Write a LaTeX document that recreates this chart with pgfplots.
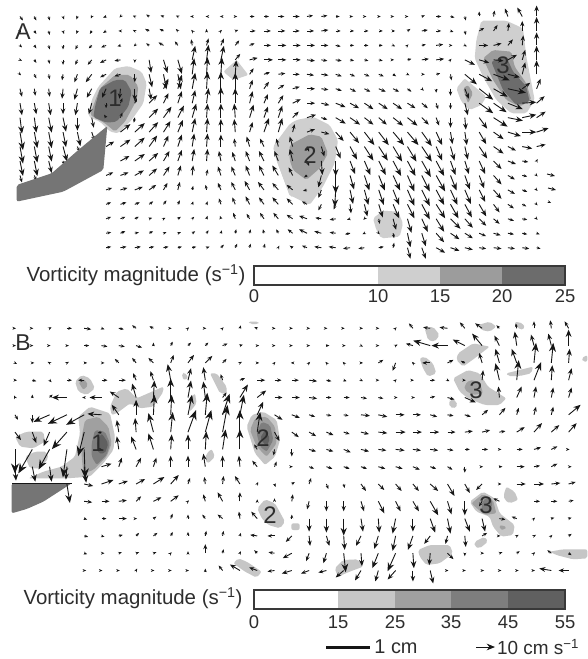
\documentclass[border=0pt]{standalone}
\usepackage{fontspec}
\setmainfont{Liberation Sans}
\usepackage{pgfplots}
\pgfplotsset{compat=1.18}
\usetikzlibrary{arrows.meta}
\definecolor{ink}{HTML}{161616}
\definecolor{AA}{HTML}{CFCFCF}\definecolor{AB}{HTML}{9C9C9C}\definecolor{AC}{HTML}{6C6C6C}
\definecolor{BA}{HTML}{C6C6C6}\definecolor{BB}{HTML}{A0A0A0}\definecolor{BC}{HTML}{7E7E7E}\definecolor{BD}{HTML}{606060}
\definecolor{foil}{HTML}{757575}
\pgfplotsset{
 qv/.style={color=ink,line width=0.9pt,forget plot,
  point meta={sqrt((\thisrow{u})^2+(\thisrow{v})^2)},
  quiver={u=\thisrow{u},v=\thisrow{v},every arrow/.append style={-{Stealth[length=10pt,width=8pt,scale={max(0.36,min(1,0.2+\pgfplotspointmetatransformed/1000))}]}}}},
 zA1/.style={x filter/.expression={x/3},y filter/.expression={y/3}},
 zA2/.style={x filter/.expression={x/3+293},y filter/.expression={y/3}},
 zB1/.style={x filter/.expression={x/3},y filter/.expression={y/3+310}},
 zB2/.style={x filter/.expression={x/3+293},y filter/.expression={y/3+310}},
}
\newcommand\pat[3]{\addplot[fill=#2,draw=none,forget plot,rounded corners=2pt,#1] coordinates {#3} --cycle;}
% row j, first column, then u v (px, v downward) from the tail of each arrow
\newcommand\Ar[3]{\addplot[qv] table[row sep=crcr,x expr={20+14.35*(\coordindex+#2)},y expr={16.5+14.45*#1}]{u v\\#3};}
\newcommand\Br[3]{\addplot[qv] table[row sep=crcr,x expr={15+17.3*(\coordindex+#2)},y expr={328.3+17.3*#1}]{u v\\#3};}
\newcommand\lab[3]{\node[text=ink!90,inner sep=0pt,font=\fontsize{#3}{#3}\selectfont] at (axis cs:#1) {#2};}
\begin{document}
\begin{tikzpicture}
\begin{axis}[width=587bp,height=659bp,scale only axis,xmin=0,xmax=587,ymin=0,ymax=659,y dir=reverse,hide axis,point meta min=0,point meta max=30,clip=false]
\addplot[fill=white,draw=none,forget plot] coordinates {(0,0)(587,0)(587,659)(0,659)} --cycle;
% ---------- Panel A patches
\pat{zA1}{AA}{(295,260)(345,205)(385,198)(425,215)(440,250)(430,310)(395,360)(355,400)(330,395)(300,365)(265,350)(275,300)}
\pat{zA1}{AB}{(300,265)(345,225)(390,225)(415,260)(410,300)(375,365)(345,395)(315,370)(270,345)(290,290)}
\pat{zA1}{AC}{(285,320)(300,265)(345,240)(375,240)(395,275)(385,320)(350,365)(320,368)(280,352)}
\pat{zA1}{AA}{(670,215)(710,180)(745,225)(700,240)}
\pat{zA1}{AA}{(820,440)(880,375)(880,590)(870,590)(830,480)}
\pat{zA2}{AA}{(-10,372)(10,360)(60,350)(110,375)(135,420)(125,490)(90,560)(50,615)(0,590)(-10,585)(-50,480)(-60,440)}
\pat{zA2}{AB}{(-10,435)(50,403)(85,410)(105,460)(80,505)(40,540)(0,510)(-10,480)}
\pat{zA2}{AA}{(240,655)(270,632)(315,635)(330,670)(320,710)(265,715)(250,690)}
\pat{zA2}{AA}{(565,62)(640,62)(690,85)(700,170)(725,300)(700,340)(655,340)(610,300)(570,230)(545,175)(550,120)}
\pat{zA2}{AB}{(570,175)(600,150)(655,155)(665,200)(700,250)(715,300)(680,320)(640,300)(600,240)}
\pat{zA2}{AC}{(595,185)(640,170)(660,215)(700,260)(710,305)(670,315)(630,270)}
\pat{zA2}{AA}{(490,265)(515,235)(580,290)(565,315)(530,330)(505,305)}
\pat{zA2}{AB}{(510,265)(525,255)(540,280)(525,310)}
% ---------- Panel A arrows
\Ar{0}{0}{3 4\\2 4\\1 4\\1 3\\-1 3\\-1 2\\-3 1\\-1 1\\-2 -1\\-3 -2\\-3 -1\\-2 -1\\-2 0\\-1 0\\-1 0\\2 0\\5 0\\5 0\\6 0\\7 0\\6 -1\\6 -1\\4 0\\3 0\\2 0\\2 0\\1 0\\1 0\\3 -1\\5 0\\4 1\\1 4\\0 -5\\1 -6\\-3 -8\\-5 -9\\0 -11\\}
\Ar{1}{0}{1 2\\2 3\\1 4\\1 3\\-1 3\\-2 3\\-3 2\\-2 0\\-2 -1\\-4 -2\\-4 -2\\-2 -2\\-1 -1\\0 -2\\1 -1\\3 -1\\6 0\\7 0\\7 0\\7 0\\7 0\\7 -1\\5 0\\4 0\\4 0\\4 0\\2 0\\3 -2\\6 -1\\5 0\\3 1\\1 4\\5 -3\\4 -6\\1 -8\\0 -10\\0 -14\\}
\Ar{2}{0}{2 2\\2 3\\1 4\\0 4\\-2 4\\-3 3\\-5 2\\-3 1\\-1 1\\-3 -2\\-5 -3\\-3 -4\\-1 -6\\2 -7\\3 -7\\4 -5\\5 -2\\7 0\\8 0\\8 0\\8 0\\7 0\\5 1\\4 0\\4 0\\4 0\\2 1\\1 -1\\4 -1\\7 -1\\2 0\\2 1\\9 0\\8 -2\\5 -6\\1 -10\\0 -13\\}
\Ar{3}{0}{2 1\\2 3\\1 4\\0 5\\-2 5\\-4 5\\-6 3\\-6 1\\0 3\\2 13\\4 13\\4 14\\3 -14\\2 -15\\3 -14\\5 -6\\8 -2\\9 0\\8 0\\8 0\\8 1\\6 1\\6 1\\4 1\\4 1\\4 1\\1 0\\4 -1\\7 -1\\8 -1\\1 -1\\10 5\\10 3\\10 1\\9 -5\\3 -10\\0 -14\\}
\Ar{4}{0}{1 1\\2 4\\1 5\\-1 6\\-3 8\\-6 8\\-6 3\\-6 2\\0 8\\3 13\\3 15\\3 15\\2 -16\\1 -17\\1 -17\\1 -14\\4 -6\\6 -2\\7 -1\\7 0\\7 1\\7 1\\6 2\\5 2\\5 2\\5 2\\3 2\\2 1\\3 0\\4 -1\\1 6\\12 10\\13 7\\16 6\\12 3\\3 -12\\0 -14\\}
\Ar{5}{0}{2 8\\1 7\\1 8\\-1 10\\-3 11\\-5 9\\-4 9\\-1 10\\0 12\\2 11\\5 -10\\4 -14\\3 -16\\1 -17\\0 -17\\0 -16\\3 -9\\5 -7\\6 -4\\7 -2\\8 0\\7 1\\6 2\\6 3\\6 3\\7 3\\6 3\\4 3\\2 2\\0 4\\0 7\\4 10\\14 11\\14 8\\18 4\\8 -6\\4 -10\\}
\Ar{6}{0}{2 12\\2 11\\2 12\\0 11\\-2 12\\-3 11\\0 5\\2 -5\\2 -5\\8 -8\\5 -10\\4 -12\\3 -13\\2 -15\\0 -16\\0 -15\\3 -12\\4 -9\\5 -8\\8 -4\\8 0\\8 2\\10 4\\9 5\\9 6\\9 6\\9 6\\8 5\\6 5\\2 6\\0 6\\3 12\\14 10\\13 9\\15 6\\14 -1\\8 -7\\}
\Ar{7}{0}{2 16\\2 15\\3 15\\3 14\\0 13\\2 10\\-2 -3\\2 -5\\-1 5\\9 -9\\8 -11\\6 -12\\4 -14\\1 -14\\0 -14\\-1 -14\\4 -13\\4 -11\\4 -12\\6 -6\\9 -3\\6 2\\10 6\\10 7\\9 7\\8 7\\10 8\\10 8\\7 7\\3 8\\0 10\\1 12\\8 11\\14 9\\15 3\\14 -3\\9 -6\\}
\Ar{8}{0}{3 18\\3 16\\3 16\\3 15\\3 14\\3 9\\}
\Ar{8}{7}{10 -8\\10 -9\\9 -10\\7 -11\\5 -12\\3 -14\\1 -14\\0 -13\\-1 -13\\3 -10\\5 -14\\4 -14\\2 -8\\8 -3\\8 2\\8 9\\9 11\\10 13\\10 13\\11 13\\11 13\\10 14\\6 13\\2 12\\2 13\\7 12\\10 7\\13 4\\14 0\\12 -4\\}
\Ar{9}{0}{3 17\\3 16\\3 15\\4 15\\2 5\\}
\Ar{9}{6}{8 -5\\10 -7\\10 -9\\8 -11\\5 -11\\4 -12\\2 -13\\1 -13\\0 -12\\-1 -8\\-3 -10\\-4 -8\\-2 -8\\-3 -10\\2 5\\3 10\\5 12\\7 13\\9 14\\9 14\\9 15\\9 15\\10 15\\6 14\\4 14\\3 13\\8 12\\10 7\\8 4\\10 2\\9 -2\\}
\Ar{10}{0}{3 15\\3 15\\3 12\\1 4\\}
\Ar{10}{7}{9 -5\\10 -7\\9 -8\\6 -10\\4 -11\\2 -12\\1 -12\\-2 -10\\-3 -9\\-4 -10\\-5 -10\\-4 -10\\-3 -12\\2 5\\1 14\\0 15\\5 13\\6 14\\7 14\\8 15\\8 15\\9 16\\8 15\\5 14\\4 13\\6 13\\8 8\\8 3\\6 1\\1 -2\\}
\Ar{11}{0}{2 7\\2 5\\}
\Ar{11}{6}{7 -3\\8 -3\\9 -5\\8 -7\\6 -9\\3 -10\\1 -10\\1 -6\\-3 -9\\-4 -9\\-4 -10\\-5 -10\\-6 -10\\-4 -8\\-3 2\\-3 12\\0 18\\4 14\\5 15\\6 15\\7 15\\7 16\\8 16\\9 16\\6 15\\5 14\\5 13\\8 9\\7 4\\5 1\\1 1\\}
\Ar{12}{6}{6 -2\\7 -2\\8 -3\\7 -5\\4 -7\\2 -8\\1 -4\\-1 -5\\-3 -7\\-4 -8\\-5 -9\\-6 -8\\-6 -7\\-6 -5\\-4 1\\-3 8\\-1 17\\3 14\\4 15\\5 15\\6 15\\7 16\\8 16\\8 15\\7 15\\6 14\\6 12\\8 9\\7 4\\5 2\\1 1\\}
\Ar{13}{6}{5 -2\\6 -2\\5 -2\\4 -3\\3 -4\\2 -4\\1 -3\\1 -3\\-2 -6\\-3 -7\\-4 -8\\-5 -7\\-6 -7\\-6 -6\\-5 -3\\-3 6\\-2 5\\1 9\\3 12\\4 13\\6 14\\7 14\\8 15\\9 14\\8 14\\7 13\\7 12\\6 8\\6 4\\4 2\\1 1\\}
\Ar{14}{6}{5 -2\\5 -2\\4 -2\\3 -1\\2 -1\\3 -2\\2 -2\\1 -3\\-1 -3\\-2 -6\\-3 -5\\-4 -6\\-5 -6\\-6 -4\\-8 -3\\-6 -1\\-6 1\\-3 1\\-1 1\\1 5\\3 11\\4 14\\6 13\\8 13\\10 10\\8 9\\7 7\\6 5\\6 2\\5 1\\1 1\\}
\Ar{15}{6}{5 -1\\5 -2\\4 -1\\4 -2\\3 -1\\3 -1\\3 -2\\2 -3\\1 -3\\1 -4\\1 -4\\-1 -4\\-2 -4\\-5 -4\\-8 -4\\-7 -2\\-6 -1\\-5 1\\-2 1\\1 1\\1 5\\3 14\\4 13\\8 9\\9 6\\8 5\\7 3\\7 2\\6 1\\5 1\\3 1\\}
\Ar{16}{6}{5 -1\\6 -1\\6 -1\\5 -1\\5 -1\\4 -1\\4 -1\\3 -1\\3 -3\\2 -4\\1 -4\\1 -4\\1 -2\\-3 -2\\-5 -2\\-7 -1\\-7 -1\\-7 1\\-6 1\\5 -1\\1 -5\\3 11\\4 11\\9 5\\9 3\\8 2\\7 1\\8 1\\7 1\\7 1\\4 1\\}
\addplot[qv] table[x=x,y=y] {u v x y
8 2 547 174
8 2 548 188
2 1 549 202
};
\pat{zA1}{foil,draw=black,line width=0.5pt,rounded corners=0pt}{(50,555)(155,520)(235,450)(322,378)(310,510)(190,575)(50,605)}
% ---------- Panel B patches
\pat{zB1}{BA}{(85,505)(130,485)(185,470)(225,440)(240,370)(235,320)(270,290)(330,310)(345,380)(340,420)(310,460)(270,500)(200,505)}
\pat{zB1}{BA}{(330,290)(350,245)(380,235)(410,265)(490,230)(490,245)(460,290)(420,295)(390,280)(350,310)(335,315)}
\pat{zB1}{BB}{(245,380)(255,330)(295,320)(325,350)(335,400)(320,440)(280,480)(250,490)(245,440)}
\pat{zB1}{BC}{(275,400)(285,360)(315,365)(330,400)(320,435)(290,465)(275,440)}
\pat{zB1}{BD}{(290,395)(305,370)(325,400)(315,430)(295,430)}
\pat{zB1}{BA}{(225,215)(245,195)(270,205)(285,235)(260,255)(235,245)}
\pat{zB1}{BB}{(235,215)(250,205)(265,225)(250,240)}
\pat{zB1}{BA}{(45,380)(80,365)(130,365)(135,395)(100,415)(60,410)}
\pat{zB1}{BA}{(75,440)(105,425)(140,425)(145,445)(120,475)(90,475)}
\pat{zB1}{BA}{(545,190)(555,187)(565,205)(550,210)}
\pat{zB1}{BA}{(630,190)(650,190)(680,230)(680,250)(660,250)}
\pat{zB1}{BA}{(565,270)(585,250)(590,280)(570,305)}
\pat{zB1}{BA}{(620,430)(635,417)(645,440)(625,460)(615,450)}
\pat{zB1}{BA}{(700,760)(715,745)(740,755)(785,785)(770,803)(735,785)}
\pat{zB1}{BA}{(740,350)(755,315)(790,305)(830,330)(840,390)(825,440)(795,465)(765,430)}
\pat{zB1}{BB}{(750,360)(765,325)(800,320)(825,350)(830,400)(800,440)(770,410)}
\pat{zB1}{BC}{(770,370)(785,335)(810,345)(820,390)(800,425)(780,410)}
\pat{zB1}{BD}{(780,385)(795,360)(810,385)(800,410)}
\pat{zB1}{BA}{(772,595)(795,568)(825,580)(855,635)(840,655)(805,645)(785,625)}
\pat{zB1}{BA}{(745,35)(775,35)(775,42)(750,42)}
\pat{zB2}{BA}{(395,55)(420,50)(440,75)(425,95)(405,90)}
\pat{zB2}{BA}{(555,45)(590,35)(610,50)(590,65)(565,60)}
\pat{zB2}{BA}{(665,35)(690,40)(695,55)(680,60)}
\pat{zB2}{BA}{(495,130)(540,100)(590,110)(545,145)(510,170)(490,150)}
\pat{zB2}{BA}{(380,145)(395,140)(420,160)(430,190)(405,200)(390,175)}
\pat{zB2}{BA}{(865,145)(883,135)(883,155)(870,155)}
\pat{zB2}{BA}{(640,190)(680,180)(720,170)(715,190)(680,198)(645,198)}
\pat{zB2}{BA}{(480,205)(525,180)(560,190)(585,230)(640,265)(620,285)(575,285)(525,265)(500,245)}
\pat{zB2}{BB}{(515,225)(530,210)(560,215)(570,250)(540,255)(515,240)}
\pat{zB2}{BA}{(465,280)(480,265)(495,285)(480,297)}
\pat{zB2}{BA}{(530,575)(570,545)(605,565)(620,610)(665,645)(660,675)(625,680)(600,650)(590,620)(550,605)}
\pat{zB2}{BB}{(535,580)(570,552)(600,570)(610,610)(575,615)}
\pat{zB2}{BC}{(570,570)(590,560)(600,580)(585,610)(565,600)}
\pat{zB2}{BB}{(620,645)(640,650)(635,660)(620,658)}
\pat{zB2}{BA}{(632,555)(640,530)(665,545)(675,570)(650,580)(635,570)}
\pat{zB2}{BA}{(545,695)(575,680)(585,695)(560,715)(545,710)}
\pat{zB2}{BA}{(375,720)(410,705)(440,705)(470,705)(480,730)(440,760)(400,765)(380,740)}
\pat{zB2}{BA}{(125,775)(150,750)(195,748)(210,770)(170,785)(135,800)}
\pat{zB2}{BA}{(770,725)(810,718)(883,718)(883,745)(840,748)(790,735)}
\pat{zB2}{BA}{(-5,640)(20,640)(20,660)(-5,660)}
\pat{zB1}{foil,rounded corners=0pt}{(35,520)(215,520)(130,575)(80,597)(35,610)}
\addplot[ink,line width=1.2pt,forget plot] coordinates {(12,483.5)(72,483.5)};
% ---------- Panel B arrows
\Br{0}{0}{1 0\\1 0\\2 -1\\5 0\\7 1\\3 1\\5 1\\-4 -3\\-4 -2\\1 0\\1 -1\\1 0\\1 -1\\1 -3\\-3 -1\\1 0\\1 0\\1 0\\1 0\\1 0\\2 0\\1 0\\1 -1\\-4 -5\\-7 -1\\-8 -1\\-5 -6\\-7 -5\\-3 -3\\-1 -5\\0 -7\\-1 -8\\-4 -7\\}
\Br{1}{0}{1 0\\1 0\\1 0\\2 0\\5 0\\6 1\\6 1\\6 2\\0 -3\\2 -4\\3 -3\\3 -3\\5 -2\\3 -1\\2 0\\1 0\\1 0\\1 0\\3 0\\2 0\\2 1\\1 0\\2 -1\\-7 -2\\-17 -5\\-16 0\\-12 -6\\-10 -12\\-5 -10\\-2 -14\\-3 -11\\-3 -12\\0 -16\\}
\Br{2}{0}{2 1\\2 0\\-2 -1\\2 -1\\3 0\\3 0\\-4 -4\\-4 -5\\-5 -5\\3 -8\\6 -8\\7 -7\\4 -4\\2 -1\\2 0\\1 -1\\-1 0\\1 -1\\-1 -1\\-1 -1\\2 0\\5 -3\\-3 8\\-1 -1\\-8 0\\6 -3\\-4 -2\\-3 -10\\-4 -14\\-5 -14\\2 -20\\2 -20\\1 -14\\}
\Br{3}{0}{2 0\\4 1\\2 2\\5 0\\-6 0\\6 0\\7 0\\-3 -7\\-3 -9\\-3 -16\\3 -12\\-2 -13\\-2 -6\\5 -2\\8 0\\7 0\\7 0\\8 1\\5 1\\3 1\\2 1\\1 0\\1 -1\\1 0\\5 0\\2 1\\1 0\\1 -10\\-4 -17\\2 -20\\7 -18\\1 -15\\3 -12\\}
\Br{4}{0}{-1 -2\\0 -3\\3 -3\\-15 0\\-2 0\\-12 0\\-9 -6\\-4 -14\\1 -17\\0 -19\\3 -17\\-2 -16\\4 -5\\8 -13\\9 -7\\8 0\\8 0\\8 1\\5 0\\6 0\\6 1\\5 1\\2 0\\2 0\\5 -1\\7 2\\11 5\\}
\Br{4}{28}{-1 -11\\5 -11\\2 -11\\2 -10\\3 -10\\}
\Br{5}{0}{3 5\\0 8\\-16 7\\-19 9\\-18 10\\-14 -1\\-7 -10\\0 -15\\1 -20\\1 -20\\4 -20\\2 -22\\7 -21\\4 -20\\6 -13\\8 5\\8 3\\6 2\\5 1\\5 1\\9 1\\9 2\\9 0\\8 0\\7 2\\6 1\\6 2\\6 -5\\6 -7\\2 -7\\2 -8\\2 -8\\12 -10\\}
\Br{6}{0}{6 8\\4 11\\-6 14\\-15 17\\-6 24\\-4 1\\-2 -12\\-1 -14\\-5 -19\\2 -20\\8 -22\\6 -22\\5 -27\\0 -22\\3 -20\\5 9\\7 5\\7 4\\7 3\\6 2\\8 2\\9 1\\10 0\\9 0\\9 0\\8 0\\8 -1\\8 -2\\6 -1\\8 -5\\8 -9\\8 -7\\8 -9\\}
\Br{7}{0}{0 24\\-14 24\\-11 20\\-4 28\\1 29\\1 0\\-2 -13\\-5 -13\\-5 -16\\1 -15\\0 -15\\1 -18\\3 -20\\0 -20\\-3 -5\\-1 6\\0 7\\7 2\\7 2\\7 3\\8 2\\8 1\\9 1\\8 1\\8 1\\6 1\\5 0\\6 0\\2 0\\6 0\\7 -2\\6 -3\\1 0\\}
\Br{8}{0}{1 14\\3 15\\2 15\\-1 13\\2 16\\10 -3\\3 -9\\5 -9\\3 -9\\0 -11\\0 -11\\-2 -13\\0 -11\\-1 -11\\-5 -6\\2 -5\\1 0\\5 2\\6 2\\6 2\\6 2\\7 2\\7 2\\7 3\\6 2\\5 3\\0 6\\1 0\\3 0\\8 0\\6 -1\\6 -3\\3 0\\}
\Br{9}{3}{3 19\\9 2\\12 -4\\9 -3\\9 -5\\11 -7\\8 -9\\2 -6\\-1 -7\\1 -8\\-5 -8\\1 -2\\1 3\\3 -2\\2 -6\\2 5\\1 4\\5 7\\6 6\\6 7\\6 7\\8 7\\7 12\\5 9\\-6 6\\2 0\\9 0\\10 0\\9 -1\\7 -2\\}
\Br{10}{4}{8 1\\8 0\\8 -1\\5 -5\\8 -4\\8 -6\\1 -1\\-2 -7\\-5 -9\\0 -9\\0 -2\\0 -3\\1 -7\\-2 8\\0 10\\0 10\\3 10\\6 12\\5 10\\6 10\\8 14\\4 13\\0 14\\-3 5\\-6 -3\\}
\Br{10}{30}{6 0\\6 0\\5 -1\\}
\Br{11}{4}{3 1\\5 0\\8 0\\1 0\\3 -2\\2 -5\\0 -4\\-3 -4\\-5 -4\\-1 -7\\-6 -7\\}
\Br{11}{16}{0 -4\\0 13\\0 14\\0 17\\2 13\\1 14\\-3 15\\0 13\\5 14\\3 15\\5 13\\3 13\\6 1\\-5 -2\\1 -1\\3 -1\\3 -1\\}
\Br{12}{4}{4 1\\3 1\\4 -1\\3 -3\\4 -3\\2 -4\\0 -4\\1 -5\\1 -5\\1 -3\\-7 -1\\-7 0\\-6 6\\1 10\\3 10\\1 14\\-5 10\\-4 13\\-3 15\\-5 14\\-6 8\\-2 8\\1 11\\5 -3\\1 0\\2 -1\\2 -1\\1 -1\\3 -2\\}
\Br{13}{4}{3 1\\3 0\\3 -1\\3 -1\\3 -1\\1 -1\\0 -2\\0 -9\\1 -4\\1 -2\\-3 -3\\-6 -1\\-9 5\\-3 8\\-3 10\\2 19\\1 13\\-6 15\\-8 18\\1 15\\-1 12\\6 6\\0 3\\2 0\\3 -1\\3 -2\\1 -1\\-4 -3\\3 2\\}
\Br{14}{4}{2 0\\1 0\\1 0\\1 -2\\1 0\\1 0\\1 0\\0 -2\\-4 -5\\-10 -6\\-8 -3\\-7 1\\-10 3\\-8 3\\-8 2\\-8 7\\-6 10\\-3 11\\-8 9\\0 11\\3 13\\1 0\\1 0\\2 0\\2 0\\2 0\\1 0\\-12 -2\\-10 0\\}
% ---------- Colour bars
\addplot[fill=AA,draw=none,forget plot] coordinates {(378,266)(440,266)(440,285)(378,285)} --cycle;
\addplot[fill=AB,draw=none,forget plot] coordinates {(440,266)(502,266)(502,285)(440,285)} --cycle;
\addplot[fill=AC,draw=none,forget plot] coordinates {(502,266)(565,266)(565,285)(502,285)} --cycle;
\addplot[draw=ink!85,line width=1.6pt,forget plot] coordinates {(254,266)(565,266)(565,285)(254,285)} --cycle;
\addplot[fill=BA,draw=none,forget plot] coordinates {(338,590)(395,590)(395,609)(338,609)} --cycle;
\addplot[fill=BB,draw=none,forget plot] coordinates {(395,590)(451,590)(451,609)(395,609)} --cycle;
\addplot[fill=BC,draw=none,forget plot] coordinates {(451,590)(508,590)(508,609)(451,609)} --cycle;
\addplot[fill=BD,draw=none,forget plot] coordinates {(508,590)(565,590)(565,609)(508,609)} --cycle;
\addplot[draw=ink!85,line width=1.6pt,forget plot] coordinates {(254,590)(565,590)(565,609)(254,609)} --cycle;
% ---------- Scale bars
\addplot[ink,line width=3pt,forget plot] coordinates {(326,647)(370,647)};
\addplot[qv] table[x=x,y=y] {u v x y
19 0 476 647
};
% ---------- Text
\lab{136,275}{Vorticity magnitude (s\textsuperscript{−1})}{20.5}
\lab{133,598}{Vorticity magnitude (s\textsuperscript{−1})}{20.5}
\lab{254,296}{0}{18.5}\lab{378,296}{10}{18.5}\lab{440,296}{15}{18.5}\lab{502,296}{20}{18.5}\lab{565,296}{25}{18.5}
\lab{254,622}{0}{18.5}\lab{338,622}{15}{18.5}\lab{395,622}{25}{18.5}\lab{451,622}{35}{18.5}\lab{508,622}{45}{18.5}\lab{565,622}{55}{18.5}
\lab{396,647}{1 cm}{20}
\lab{538,647}{10 cm s\textsuperscript{−1}}{19}
\lab{23,32}{A}{23}\lab{23,343}{B}{23}
\lab{115,98}{1}{24}\lab{310,155}{2}{24}\lab{503,65}{3}{24}
\lab{98,443}{1}{24}\lab{263,438}{2}{24}\lab{270,515}{2}{24}\lab{476,390}{3}{24}\lab{486,505}{3}{24}
\end{axis}
\end{tikzpicture}
\end{document}
